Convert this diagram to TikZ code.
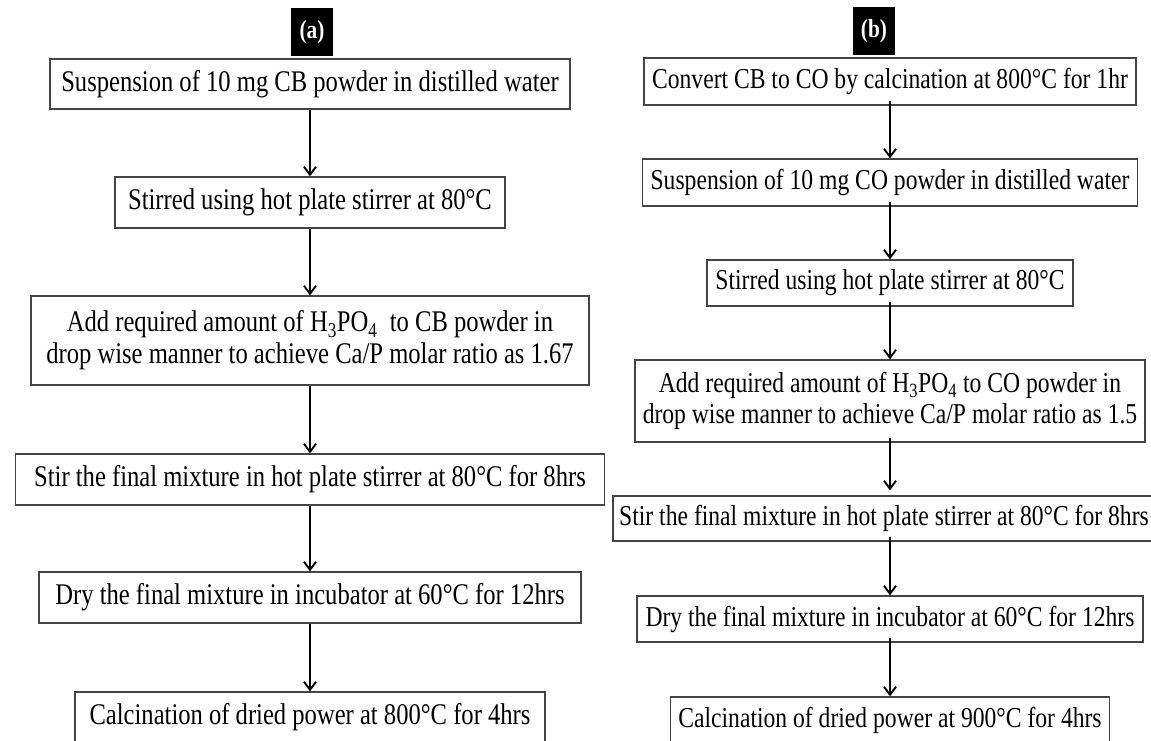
\documentclass[tikz,border=0pt]{standalone}
\usepackage{fontspec}
\setmainfont{Liberation Serif}
\newfontfamily\narrowserif[FakeStretch=0.82]{Liberation Serif}
\usetikzlibrary{arrows.meta}
\definecolor{boxgray}{HTML}{444444}
\tikzset{
  stepbox/.style={draw=boxgray, line width=1.3pt, inner sep=0pt, align=center, fill=white},
  lbox/.style={stepbox, font=\narrowserif\fontsize{30}{32}\selectfont},
  rbox/.style={stepbox, font=\narrowserif\fontsize{28.8}{30.5}\selectfont},
  tagbox/.style={fill=black, text=white, font=\narrowserif\bfseries\fontsize{26}{28}\selectfont,
    minimum width=42pt, minimum height=48pt, inner sep=0pt},
  flow/.style={line width=1.9pt, -{Straight Barb[length=8pt,width=12pt]}},
}
\begin{document}
\begin{tikzpicture}[x=1pt,y=-1pt]
\useasboundingbox (0,0) rectangle (1151,740);
% ---------- (a) ----------
\node[tagbox] (la) at (312,32) {(a)};
\node[lbox, minimum width=520pt, minimum height=50pt] (a1) at (310,84) {Suspension of 10 mg CB powder in distilled water};
\node[lbox, minimum width=390pt, minimum height=51pt] (a2) at (310,202.5) {Stirred using hot plate stirrer at 80°C};
\node[lbox, minimum width=558pt, minimum height=89pt] (a3) at (310,340.5) {Add required amount of H\textsubscript{3}PO\textsubscript{4}\ \ to CB powder in\\drop wise manner to achieve Ca/P molar ratio as 1.67};
\node[lbox, minimum width=589pt, minimum height=51pt] (a4) at (310,479.5) {Stir the final mixture in hot plate stirrer at 80°C for 8hrs};
\node[lbox, minimum width=542pt, minimum height=51pt] (a5) at (310,597.5) {Dry the final mixture in incubator at 60°C for 12hrs};
\node[lbox, minimum width=470pt, minimum height=50pt] (a6) at (310,717) {Calcination of dried power at 800°C for 4hrs};
\draw[flow] (a1) -- (a2);
\draw[flow] (a2) -- (a3);
\draw[flow] (a3) -- (a4);
\draw[flow] (a4) -- (a5);
\draw[flow] (a5) -- (a6);
% ---------- (b) ----------
\node[tagbox] (lb) at (874,31) {(b)};
\node[rbox, minimum width=492pt, minimum height=47pt] (b1) at (890,81.5) {Convert CB to CO by calcination at 800°C for 1hr};
\node[rbox, minimum width=495pt, minimum height=47pt] (b2) at (890,182.5) {Suspension of 10 mg CO powder in distilled water};
\node[rbox, minimum width=366pt, minimum height=46pt] (b3) at (890,283) {Stirred using hot plate stirrer at 80°C};
\node[rbox, minimum width=510pt, minimum height=82pt] (b4) at (890,401) {Add required amount of H\textsubscript{3}PO\textsubscript{4} to CO powder in\\drop wise manner to achieve Ca/P molar ratio as 1.5};
\node[rbox, minimum width=542pt, minimum height=45pt] (b5) at (884,518.5) {Stir the final mixture in hot plate stirrer at 80°C for 8hrs};
\node[rbox, minimum width=506pt, minimum height=46pt] (b6) at (890,619) {Dry the final mixture in incubator at 60°C for 12hrs};
\node[rbox, minimum width=439pt, minimum height=46pt] (b7) at (890,720) {Calcination of dried power at 900°C for 4hrs};
\draw[flow] ([yshift=5pt]b1.south) -- (b2.north);
\draw[flow] ([yshift=5pt]b2.south) -- (b3.north);
\draw[flow] ([yshift=5pt]b3.south) -- (b4.north);
\draw[flow] ([yshift=5pt]b4.south) -- ([yshift=5pt]b4.south |- b5.north);
\draw[flow] ([yshift=5pt]b4.south |- b5.south) -- (b6.north);
\draw[flow] ([yshift=5pt]b6.south) -- (b7.north);
\end{tikzpicture}
\end{document}
